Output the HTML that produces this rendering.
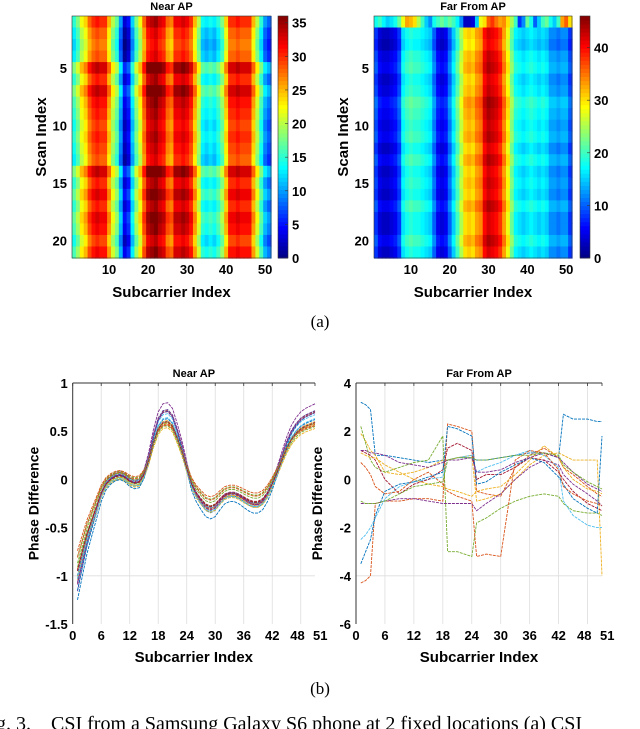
<!DOCTYPE html>
<html><head><meta charset="utf-8"><style>
html,body{margin:0;padding:0;background:#fff;width:640px;height:729px;overflow:hidden}
svg{display:block}
text{font-family:"Liberation Sans",sans-serif}
</style></head><body>
<svg id="fig" width="640" height="729" viewBox="0 0 640 729" xmlns="http://www.w3.org/2000/svg">
<g id="g1"></g>
<g id="g2"></g>
<g id="g3"></g>
<g id="g4"></g>
<text x="320" y="327" text-anchor="middle" font-size="17" style="font-family:'Liberation Serif',serif">(a)</text>
<text x="320" y="694" text-anchor="middle" font-size="17" style="font-family:'Liberation Serif',serif">(b)</text>
<text x="-4" y="730" font-size="20" xml:space="preserve" style="font-family:'Liberation Serif',serif;white-space:pre">g. 3.    CSI from a Samsung Galaxy S6 phone at 2 fixed locations (a) CSI</text>
</svg>
<script>
// ---------- data ----------
const nearCols=[15,18,22,24,28,30,31,30,30,25,20,17,10,3,5,12,18,22,28,33,34,35,33,32,28,27,32,32,33,32,30,25,20,14,13,14,13,15,18,24,30,30,31,30,30,30,25,20,15,10,8];
const nearRowOffset=[0,-2,-3,-2,3,0,3,1,0,-1,0,-1,-2,3,0,2,0,2,1,-1,1];
const farCols=[8,4,3,3,4,5,8,16,18,19,18,18,17,16,15,10,5,4,5,10,15,20,25,30,31,30,33,34,40,42,41,40,38,33,28,22,17,16,15,16,17,16,15,16,15,12,12,11,12,12,8];
const farRowOffset=[0,0,-1,1,2,0,1,3,2,1,2,0,2,0,1,0,2,0,0,2,0];
const farRow1=[18,20,17,15,16,18,22,28,33,32,30,25,20,15,12,18,20,22,20,22,20,17,12,3,3,4,15,28,30,36,38,35,33,34,30,25,20,8,12,22,18,10,15,20,22,18,15,20,33,36,30];
const nearMax=36, farMax=46;
const subIdx=[];for(let i=1;i<=51;i++)subIdx.push(i);
const nearBase=[-1.0,-0.8,-0.6,-0.45,-0.3,-0.15,-0.05,0.0,0.03,0.04,0.02,-0.02,-0.04,-0.03,0.05,0.2,0.4,0.55,0.62,0.63,0.58,0.45,0.3,0.12,-0.05,-0.15,-0.22,-0.28,-0.3,-0.28,-0.22,-0.17,-0.15,-0.15,-0.17,-0.2,-0.23,-0.25,-0.25,-0.22,-0.15,-0.05,0.07,0.2,0.33,0.43,0.5,0.55,0.58,0.6,0.62];
const nearScale=[1.0,1.1,0.9,1.2,0.85,1.05,0.95,1.15,0.8,1.0,1.1,0.9,1.05,0.95,1.2,0.85,1.0,1.1,0.9,1.0,0.95];
const nearShift=[0.0,0.02,-0.03,0.04,0.05,-0.02,0.01,0.0,0.06,-0.04,0.03,-0.01,0.02,0.0,-0.05,0.04,-0.02,0.01,0.03,-0.03,0.0];
const farX=[1,2,3,4,6,9,12,15,18,19,21,24,25,27,30,33,36,39,42,43,45,48,50,51];
const farS1=[3.2,3.1,2.9,1.0,1.0,0.9,0.8,0.7,0.8,0.8,0.9,0.9,0.8,0.8,0.9,1.0,1.1,1.1,0.9,2.7,2.5,2.5,2.4,2.4];
const farS2=[-4.3,-4.2,-4.0,-1.0,-0.9,-0.9,-0.8,-0.8,-0.9,2.3,2.2,2.0,-0.5,-0.6,-0.7,0.5,1.0,1.3,0.9,0.5,0.2,-0.3,-0.6,-0.7];
const farS3=[1.9,1.6,1.2,1.0,0.3,0.2,0.3,0.5,0.8,0.8,0.9,1.0,-0.9,-0.8,-0.6,0.0,0.6,1.0,1.1,1.0,0.8,0.8,0.8,-4.0];
const farS4=[-1.0,-1.0,-1.0,-1.0,-0.9,-0.8,-0.8,-0.9,-1.0,-1.0,-1.0,-1.0,-1.3,-1.0,-0.6,0.0,0.5,0.8,0.6,0.2,-0.2,-0.6,-0.9,-1.1];
const farS5=[2.2,1.5,0.8,0.5,0.3,0.5,0.7,0.8,1.8,-3.0,-3.0,-3.2,-1.8,-1.6,-1.2,-0.9,-0.7,-0.6,-0.7,-1.0,-1.3,-1.4,-1.4,-1.5];
const farS6=[-2.5,-2.3,-2.0,-1.6,-0.8,-0.3,-0.1,0.0,0.1,0.8,0.9,1.0,0.3,0.5,0.7,1.0,1.2,1.0,0.5,-0.9,-1.5,-1.9,-2.0,-2.0];
const farS7=[1.2,1.1,1.0,0.8,0.0,-0.6,-0.2,0.0,0.4,1.3,1.5,1.2,0.0,0.2,0.2,0.5,0.9,0.8,0.3,0.0,-0.5,-1.0,-1.2,-1.3];
const farS8=[-3.5,-3.0,-2.5,-1.5,-0.5,-0.2,-0.1,0.1,0.3,2.2,2.1,1.8,-0.2,-0.1,0.3,0.6,0.9,0.7,0.1,-0.2,-0.8,-1.2,-1.4,1.8];
const farS9=[0.7,0.5,0.2,-0.3,-0.6,-0.5,0.0,0.3,-0.2,-0.5,-0.7,-0.9,-3.2,-3.1,-3.2,0.8,1.2,1.1,0.4,-0.3,-0.6,-0.9,-1.0,-1.1];
const farS10=[1.1,1.0,0.9,0.9,0.6,0.3,0.0,-0.2,-0.3,-0.4,-0.5,-0.7,-0.5,-0.4,-0.3,0.2,0.8,1.4,0.9,0.5,0.0,-0.4,-0.5,-0.6];
const farS11=[1.2,1.2,1.1,1.1,1.0,0.7,0.6,0.5,0.7,0.8,0.8,0.9,0.3,0.3,0.4,0.7,0.9,1.1,0.9,0.7,0.3,-0.2,-0.4,-0.5];
const farS12=[-0.9,-1.0,-1.0,-1.0,-0.9,-0.6,-0.3,-0.2,-0.1,0.8,0.9,0.9,0.8,0.8,0.9,1.0,1.0,1.1,1.0,0.6,0.3,-0.1,-0.3,-0.4];
const heatXTicks=[10,20,30,40,50];
const heatYTicks=[5,10,15,20];
const nearCbTicks=[0,5,10,15,20,25,30,35];
const farCbTicks=[0,10,20,30,40];
const lineXTicks=[0,6,12,18,24,30,36,42,48,51];
const nearYTicks=[1,0.5,0,-0.5,-1,-1.5];
const farYTicks=[4,2,0,-2,-4,-6];
const colors=['#0072BD','#D95319','#EDB120','#7E2F8E','#77AC30','#4DBEEE','#A2142F'];

// ---------- helpers ----------
const NS='http://www.w3.org/2000/svg';
function mk(tag,attrs,parent){const e=document.createElementNS(NS,tag);for(const k in attrs)e.setAttribute(k,attrs[k]);parent.appendChild(e);return e;}
function jet(t){t=Math.max(0,Math.min(1,t));
 const r=Math.max(0,Math.min(1,1.5-Math.abs(4*t-3)));
 const g=Math.max(0,Math.min(1,1.5-Math.abs(4*t-2)));
 const b=Math.max(0,Math.min(1,1.5-Math.abs(4*t-1)));
 return `rgb(${Math.round(r*255)},${Math.round(g*255)},${Math.round(b*255)})`;}
function txt(p,x,y,s,o){const t=mk('text',Object.assign({x:x,y:y,'font-size':13,'font-weight':'bold'},o||{}),p);t.textContent=s;return t;}

function heatmap(g,px0,px1,py0,py1,cb0,vmax,rows,cbTicks,title){
 const nC=51,nR=21;
 const sx=c=>px0+(c-0.5)*(px1-px0)/nC;
 const sy=r=>py0+(r-0.5)*(py1-py0)/nR;
 const cw=(px1-px0)/nC,rh=(py1-py0)/nR;
 for(let r=1;r<=nR;r++)for(let c=1;c<=nC;c++){
  const v=rows[r-1][c-1];
  const e=mk('rect',{x:sx(c-0.5),y:sy(r-0.5),width:cw+0.6,height:rh+0.6,fill:jet(v/vmax)},g);
  
  
 }
 mk('rect',{x:px0,y:py0,width:px1-px0,height:py1-py0,fill:'none',stroke:'#333','stroke-width':0.6},g);
 heatXTicks.forEach(v=>{const x=sx(v);txt(g,x,py1+16,String(v),{'text-anchor':'middle'});});
 heatYTicks.forEach(v=>{const y=sy(v);txt(g,px0-5,y+5,String(v),{'text-anchor':'end'});});
 const n=60;
 for(let i=0;i<n;i++){const y=py1-(i+1)*(py1-py0)/n;mk('rect',{x:cb0,y:y,width:10,height:(py1-py0)/n+0.5,fill:jet((i+0.5)/n)},g);}
 mk('rect',{x:cb0,y:py0,width:10,height:py1-py0,fill:'none',stroke:'#333','stroke-width':0.6},g);
 cbTicks.forEach(v=>{const y=py1-v/vmax*(py1-py0);mk('line',{x1:cb0+10,x2:cb0+7,y1:y,y2:y,stroke:'#333','stroke-width':0.6},g);
  txt(g,cb0+14,y+5,String(v),{});});
 const t=txt(g,(px0+px1)/2,10,title,{'text-anchor':'middle','font-size':11});
 const xl=txt(g,(px0+px1)/2,297,'Subcarrier Index',{'text-anchor':'middle','font-size':15});
 const yl=txt(g,0,0,'Scan Index',{'text-anchor':'middle','font-size':15,transform:`translate(${px0-26},${(py0+py1)/2}) rotate(-90)`});
}

const nearRows=nearRowOffset.map(o=>nearCols.map(v=>v+o));
const farRows=farRowOffset.map((o,i)=>i===0?farRow1:farCols.map(v=>v+o));
heatmap(document.getElementById('g1'),72,271,16,258,278,nearMax,nearRows,nearCbTicks,'Near AP');
heatmap(document.getElementById('g2'),374,572,16,258,580,farMax,farRows,farCbTicks,'Far From AP');

function lineChart(g,px0,px1,py0,py1,ymin,ymax,yTicks,gridY,series,title){
 const sx=v=>px0+v/51*(px1-px0);
 const sy=v=>py1-(v-ymin)/(ymax-ymin)*(py1-py0);
 [6,12,18,24,30,36,42,48].forEach(v=>mk('line',{x1:sx(v),x2:sx(v),y1:py0,y2:py1,stroke:'#ddd','stroke-width':0.8},g));
 mk('line',{x1:px0,x2:px1,y1:sy(gridY),y2:sy(gridY),stroke:'#ddd','stroke-width':0.8},g);
 series.forEach((s,i)=>{
  const d=s.x.map((x,j)=>(j?'L':'M')+sx(x).toFixed(1)+','+sy(s.y[j]).toFixed(1)).join('');
  const p=mk('path',{d:d,fill:'none',stroke:colors[i%colors.length],'stroke-width':0.9,'stroke-dasharray':'3,1'},g);
  
  
 });
 mk('line',{x1:px0,x2:px1,y1:py0,y2:py0,stroke:'#333','stroke-width':1},g);
 mk('line',{x1:px0,x2:px0,y1:py0,y2:py1,stroke:'#333','stroke-width':1},g);
 lineXTicks.forEach(v=>{mk('line',{x1:sx(v),x2:sx(v),y1:py0,y2:py0+3,stroke:'#333','stroke-width':0.8},g);
  const t=txt(g,sx(v),py1+16,String(v),{'text-anchor':v===48?'end':(v===51?'start':'middle'),dx:v===48?4:(v===51?-2:0)});});
 yTicks.forEach(v=>{const t=txt(g,px0-5,sy(v)+5,String(v),{'text-anchor':'end'});});
 const tt=txt(g,(px0+px1)/2,377,title,{'text-anchor':'middle','font-size':11});
 const xl=txt(g,(px0+px1)/2,662,'Subcarrier Index',{'text-anchor':'middle','font-size':15});
 const yl=txt(g,0,0,'Phase Difference',{'text-anchor':'middle','font-size':14,transform:`translate(${px0-34},${(py0+py1)/2}) rotate(-90)`});
}
const nearSeries=nearScale.map((s,i)=>({x:subIdx,y:nearBase.map(v=>v*s+nearShift[i])}));
const farSeries=[farS1,farS2,farS3,farS4,farS5,farS6,farS7,farS8,farS9,farS10,farS11,farS12].map(a=>({x:farX,y:a}));
lineChart(document.getElementById('g3'),72.7,315,383,624,-1.5,1,nearYTicks,-1,nearSeries,'Near AP');
lineChart(document.getElementById('g4'),356,602,383,624,-6,4,farYTicks,-4,farSeries,'Far From AP');
</script>
</body></html>
